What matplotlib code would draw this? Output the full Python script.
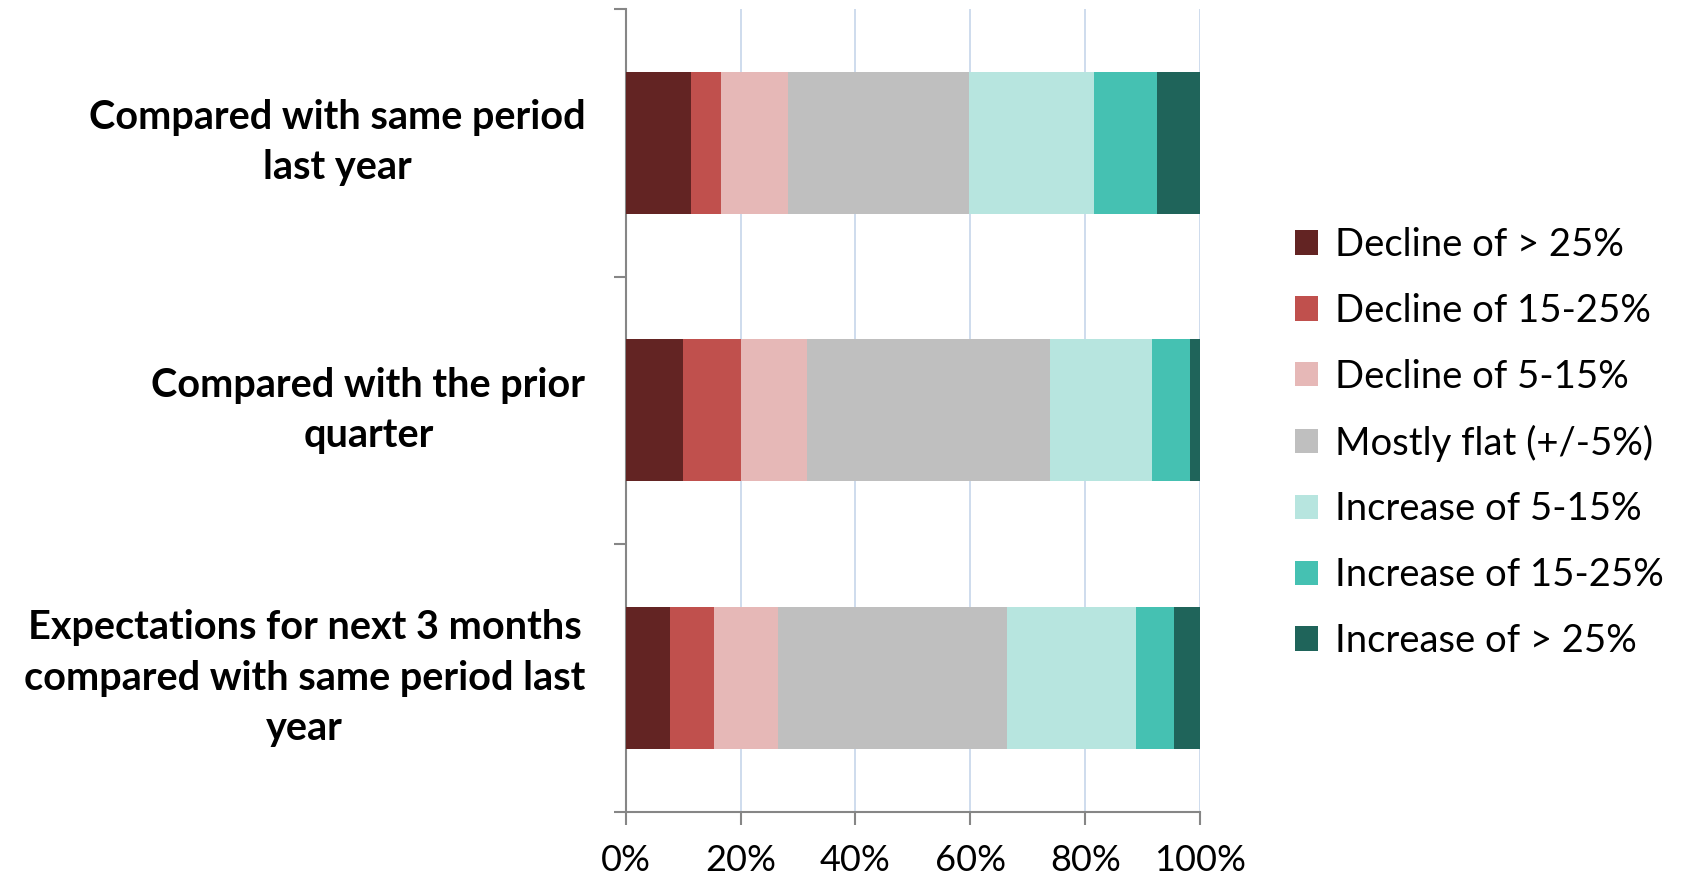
import matplotlib.pyplot as plt
from matplotlib.patches import Patch
import numpy as np

plt.rcParams['font.family'] = ['Lato', 'DejaVu Sans']

# survey question rows (top to bottom)
questions = [
    "Compared with same period\nlast year",
    "Compared with the prior\nquarter",
    "Expectations for next 3 months\ncompared with same period last\nyear",
]

# response buckets and their colours
buckets = [
    "Decline of > 25%",
    "Decline of 15-25%",
    "Decline of 5-15%",
    "Mostly flat (+/-5%)",
    "Increase of 5-15%",
    "Increase of 15-25%",
    "Increase of > 25%",
]
colors = ["#632423", "#c0504d", "#e6b8b7", "#bfbfbf", "#b7e5df", "#45c1b2", "#1f645a"]

# share of responses (%) per bucket, one list per question
decline_25 = [11.3, 10.0, 7.8]
decline_15_25 = [5.3, 10.0, 7.5]
decline_5_15 = [11.6, 11.6, 11.3]
mostly_flat = [31.5, 42.3, 39.8]
increase_5_15 = [21.8, 17.7, 22.5]
increase_15_25 = [11.0, 6.7, 6.6]
increase_25 = [7.5, 1.7, 4.5]

series = [decline_25, decline_15_25, decline_5_15, mostly_flat,
          increase_5_15, increase_15_25, increase_25]

fig = plt.figure(figsize=(16.91, 8.86), dpi=100)
ax = fig.add_axes([0.370, 0.0835, 0.3397, 0.9065])

y = np.arange(len(questions))
left = np.zeros(len(questions))
for vals, col, name in zip(series, colors, buckets):
    vals = np.array(vals)
    ax.barh(y, vals, left=left, height=0.53, color=col, label=name, zorder=3)
    left += vals

ax.set_xlim(0, 100)
ax.set_ylim(2.5, -0.5)
ax.set_xticks(np.arange(0, 101, 20))
ax.set_xticklabels([f"{v}%" for v in range(0, 101, 20)], fontsize=26)
ax.set_yticks(y)
ax.set_yticklabels(questions, fontsize=28.5, fontweight='bold',
                   multialignment='center', linespacing=1.45, va='center')
ax.set_yticks([-0.5, 0.5, 1.5, 2.5], minor=True)

ax.xaxis.grid(True, color='#c6d5ea', linewidth=1.2, zorder=0)
ax.tick_params(axis='y', which='major', length=0, pad=29)
ax.tick_params(axis='y', which='minor', length=9, color='#868686', width=1.5)
ax.tick_params(axis='x', length=9, color='#868686', width=1.5, pad=14)

for side in ['top', 'right']:
    ax.spines[side].set_visible(False)
for side in ['left', 'bottom']:
    ax.spines[side].set_color('#868686')
    ax.spines[side].set_linewidth(1.5)

handles = [Patch(facecolor=c, edgecolor='none') for c in colors]
fig.legend(handles, buckets, loc='center left', bbox_to_anchor=(0.7455, 0.5),
           frameon=False, fontsize=27.5, handlelength=0.6, handleheight=0.6,
           handletextpad=0.45, labelspacing=0.78)

fig.savefig("out.png", dpi=100)
